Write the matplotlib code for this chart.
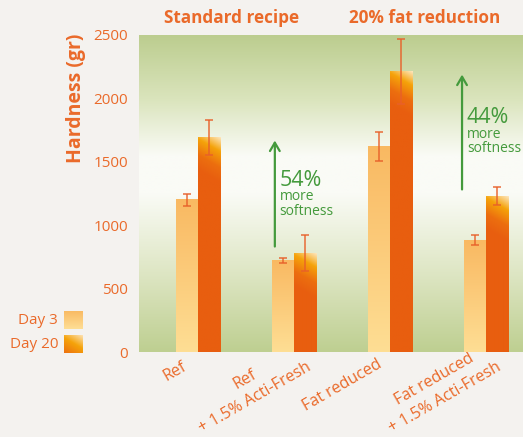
import numpy as np
import matplotlib.pyplot as plt
from matplotlib.transforms import ScaledTranslation

plt.rcParams['font.family'] = ['Open Sans', 'DejaVu Sans']

categories = ["Ref", "Ref\n+ 1.5% Acti-Fresh", "Fat reduced", "Fat reduced\n+ 1.5% Acti-Fresh"]
day3 = [1200, 720, 1620, 880]
day3_err = [50, 20, 115, 40]
day20 = [1690, 780, 2210, 1230]
day20_err = [140, 140, 255, 70]
groups = ["Standard recipe", "20% fat reduction"]
softness = ["54%", "44%"]

ORANGE_TXT = "#ea6a2a"
GREEN = "#449a3c"

fig = plt.figure(figsize=(5.23, 4.37), dpi=100)
fig.patch.set_facecolor("#f4f2ef")
ax = fig.add_axes([139 / 523, 85 / 437, 384 / 523, 317 / 437])

x = np.arange(len(categories))
w = 0.23
xlim = (-0.615, 3.385)
ymax = 2500

# background gradient: green - white - green
yy = np.linspace(0, 1, 256)
stops_y = [0.0, 0.25, 0.5, 0.62, 0.8, 1.0]
stops_c = np.array([[190, 207, 145], [222, 230, 196], [250, 251, 246],
                    [250, 251, 246], [218, 228, 188], [188, 205, 143]]) / 255
bg = np.stack([np.interp(yy, stops_y, stops_c[:, k]) for k in range(3)], axis=-1)
ax.imshow(bg[:, None, :], extent=[xlim[0], xlim[1], 0, ymax], origin="lower",
          aspect="auto", zorder=0, interpolation="bilinear")

px_per_unit = 317 / ymax
px_per_x = 96


def grad_day3(h_px, w_px):
    t = np.linspace(0, 1, max(h_px, 2))[:, None] * np.ones((1, w_px))
    c0 = np.array([254, 222, 148]) / 255
    c1 = np.array([249, 185, 98]) / 255
    return c0 + (c1 - c0) * t[..., None]


def grad_day20(h_px, w_px):
    rows = np.arange(h_px)[:, None]
    cols = np.arange(w_px)[None, :]
    dtop = (h_px - 1 - rows)
    t = dtop + 0.6 * (w_px - 1 - cols)
    st = [0, 14, 30, 45]
    sc = np.array([[253, 228, 185], [245, 163, 10], [236, 110, 15], [232, 94, 15]]) / 255
    img = np.stack([np.interp(t, st, sc[:, k]) for k in range(3)], axis=-1)
    return img


for vals, errs, off, gfun in [(day3, day3_err, -w / 2, grad_day3),
                              (day20, day20_err, w / 2, grad_day20)]:
    bars = ax.bar(x + off, vals, width=w, color="none", zorder=2)
    for b in bars:
        h_px = int(round(b.get_height() * px_per_unit))
        w_px = int(round(w * px_per_x))
        img = gfun(h_px, w_px)
        x0 = b.get_x()
        ax.imshow(img, extent=[x0, x0 + w, 0, b.get_height()], origin="lower",
                  aspect="auto", zorder=2, interpolation="bilinear")
    ax.errorbar(x + off, vals, yerr=errs, fmt="none", ecolor="#e8602a",
                elinewidth=1.2, capsize=3, capthick=1.2, alpha=0.85, zorder=3)

# softness arrows
for i, (lo, hi, lab) in enumerate([(day20[1], day20[0], softness[0]),
                                   (day20[3], day20[2], softness[1])]):
    ax_x = [0.80, 2.75][i]
    ax.annotate("", xy=(ax_x, hi), xytext=(ax_x, lo + 30),
                arrowprops=dict(arrowstyle="->,head_length=0.6,head_width=0.35",
                                color=GREEN, lw=1.6), zorder=4)
    ytext = lo + (hi - lo) * 0.63
    ax.text(ax_x + 0.05, ytext, lab, color=GREEN, fontsize=15.5, va="center", ha="left", zorder=4)
    ax.text(ax_x + 0.05, ytext - 130, "more", color=GREEN, fontsize=10, va="center", ha="left",
            zorder=4)
    ax.text(ax_x + 0.05, ytext - 245, "softness", color=GREEN, fontsize=10, va="center", ha="left",
            zorder=4)

ax.set_xlim(*xlim)
ax.set_ylim(0, ymax)
ax.set_yticks([0, 500, 1000, 1500, 2000, 2500])
ax.tick_params(axis="y", length=0, pad=8, labelsize=11, labelcolor=ORANGE_TXT)
ax.set_xticks(x)
ax.set_xticklabels(categories, rotation=30, ha="center", va="center", rotation_mode="anchor",
                   multialignment="center", fontsize=11.5, color=ORANGE_TXT, linespacing=1.45)
ax.tick_params(axis="x", length=0, pad=0)
label_offsets = [(-23, -20), (-44, -37), (-48, -33), (-46, -37)]
for lbl, (dx, dy) in zip(ax.get_xticklabels(), label_offsets):
    lbl.set_transform(lbl.get_transform() + ScaledTranslation(dx / 100, dy / 100, fig.dpi_scale_trans))
for s in ax.spines.values():
    s.set_visible(False)

fig.text(76 / 523, 1 - 98 / 437, "Hardness (gr)", rotation=90, ha="center", va="center",
         fontsize=14, fontweight="bold", color=ORANGE_TXT)
fig.text(232 / 523, 1 - 18 / 437, groups[0], ha="center", va="center",
         fontsize=12.3, fontweight="bold", color=ORANGE_TXT)
fig.text(425 / 523, 1 - 18 / 437, groups[1], ha="center", va="center",
         fontsize=12.3, fontweight="bold", color=ORANGE_TXT)

# legend
for lab, yc, gfun in [("Day 3", 320, grad_day3), ("Day 20", 344, grad_day20)]:
    lax = fig.add_axes([64 / 523, 1 - (yc + 9.5) / 437, 19 / 523, 19 / 437])
    lax.imshow(gfun(19, 19), origin="lower", aspect="auto", interpolation="bilinear")
    lax.axis("off")
    fig.text(58 / 523, 1 - yc / 437, lab, ha="right", va="center", fontsize=11, color=ORANGE_TXT)

fig.savefig("out.png", dpi=100, facecolor=fig.get_facecolor())
